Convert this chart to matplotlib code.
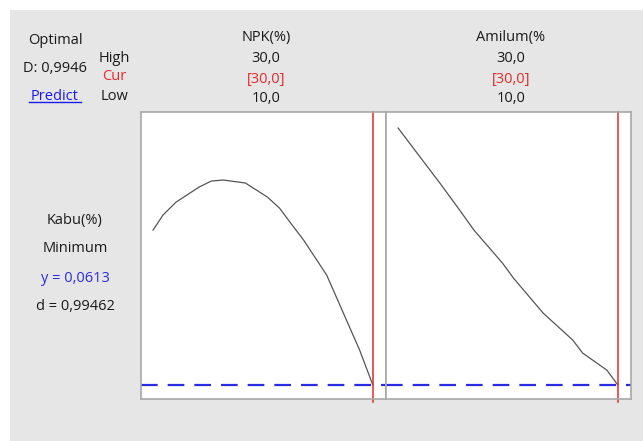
import matplotlib.pyplot as plt
import matplotlib.patches as mpatches
from matplotlib.lines import Line2D

# valori (profil de optimizare)
npk_x = [10.0, 10.9, 12.1, 14.2, 15.3, 16.4, 18.4, 20.4, 21.5, 23.0, 23.7, 25.8, 27.0, 28.8, 30.0]
npk_y = [0.526, 0.571, 0.610, 0.655, 0.673, 0.676, 0.667, 0.625, 0.592, 0.526, 0.496, 0.391, 0.301, 0.166, 0.0613]

amilum_x = [10.0, 12.0, 13.8, 15.6, 16.9, 19.5, 20.5, 23.2, 24.9, 25.9, 26.8, 29.0, 30.0]
amilum_y = [0.832, 0.745, 0.667, 0.586, 0.526, 0.427, 0.382, 0.277, 0.226, 0.196, 0.157, 0.106, 0.0613]

factori = ["NPK(%)", "Amilum(%"]
high_vals = ["30,0", "30,0"]
cur_vals = ["[30,0]", "[30,0]"]
low_vals = ["10,0", "10,0"]
cur_x = [30.0, 30.0]

y_opt = 0.0613
D_val = "0,9946"
d_val = "0,99462"

W, H = 643, 441
GRI = "#e6e6e6"
ROSU = "#e32b2b"
ALBASTRU = "#2b2be0"
NEGRU = "#1a1a1a"

plt.rcParams["font.family"] = ["Open Sans", "DejaVu Sans"]

fig = plt.figure(figsize=(W / 100, H / 100), dpi=100)
fig.patch.set_facecolor("white")
fig.patches.append(mpatches.Rectangle((10 / W, 0), 1, 1 - 10 / H, transform=fig.transFigure,
                                      facecolor=GRI, edgecolor="none", zorder=-10))


def px(x, y):
    return x / W, 1 - y / H


def text(x, y, s, color=NEGRU, size=10.5):
    fig.text(*px(x, y), s, ha="center", va="center", color=color, fontsize=size)


panouri = [(141, npk_x, npk_y), (386, amilum_x, amilum_y)]
for i, (left, xs, ys) in enumerate(panouri):
    ax = fig.add_axes([left / W, (H - 399) / H, 245 / W, 287 / H])
    ax.set_facecolor("white")
    ax.plot(xs, ys, color="#555555", lw=0.9)
    ax.axvline(cur_x[i], ymin=-0.012, ymax=1, color=ROSU, lw=1.1, clip_on=False)
    ax.axhline(y_opt, color=ALBASTRU, lw=1.6, ls=(0, (7.5, 4.5)))
    ax.set_xlim(8.9, 31.2)
    ax.set_ylim(0.0193, 0.880)
    ax.set_xticks([])
    ax.set_yticks([])
    for sp in ax.spines.values():
        sp.set_color("#a8a8a8")
        sp.set_linewidth(1.2)

    cx = 266 if i == 0 else 511
    text(cx, 38, factori[i])
    text(cx, 59, high_vals[i])
    text(cx, 79, cur_vals[i], color=ROSU)
    text(cx, 99, low_vals[i])

text(55, 41, "Optimal")
text(55, 68, "D: " + D_val)
text(55, 96, "Predict", color="#1a1aee")
fig.lines.append(Line2D([29 / W, 81 / W], [1 - 102 / H, 1 - 102 / H], transform=fig.transFigure,
                        color="#1a1aee", lw=1))
text(114, 58, "High")
text(114, 77, "Cur", color=ROSU)
text(115, 97, "Low")

text(75, 221, "Kabu(%)")
text(75, 249, "Minimum")
text(75, 278, "y = 0,0613", color=ALBASTRU)
text(75, 306, "d = " + d_val)

fig.savefig("out.png", dpi=100, facecolor=fig.get_facecolor())
